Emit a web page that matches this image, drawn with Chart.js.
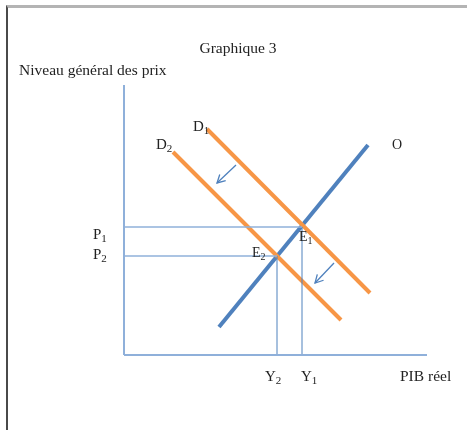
<!DOCTYPE html>
<html lang="fr">
<head>
<meta charset="utf-8">
<title>Graphique 3</title>
<script src="https://cdn.jsdelivr.net/npm/chart.js@4.4.1/dist/chart.umd.min.js"></script>
<style>
    html, body { margin: 0; padding: 0; background: #fff; }
    #cadre {
        position: absolute; left: 6px; top: 5px; right: 0; bottom: 0;
        border-top: 3px solid #b4b4b4; border-left: 2px solid #4a4a4a;
    }
    canvas { position: absolute; left: 0; top: 0; }
</style>
</head>
<body>
<div id="cadre"></div>
<canvas id="graphique" width="467" height="430"></canvas>
<script>
// Repère : origine au croisement des axes, 1 unité = 10 px
const bornesX = [-12.4, 34.3];
const bornesY = [-7.5, 35.5];

const axeHorizontal = [{ x: 0, y: 0 }, { x: 30.3, y: 0 }];
const axeVertical = [{ x: 0, y: 0 }, { x: 0, y: 27 }];

// Courbe d'offre (O) et demandes D1, D2
const offre = [{ x: 9.5, y: 2.8 }, { x: 24.4, y: 21.0 }];
const demande1 = [{ x: 8.3, y: 22.6 }, { x: 24.6, y: 6.2 }];
const demande2 = [{ x: 4.9, y: 20.3 }, { x: 21.7, y: 3.5 }];

// Équilibres E1, E2 : prix (P1, P2) et PIB (Y1, Y2)
const prix = [12.8, 9.9];
const pib = [17.8, 15.3];

// Flèches de déplacement de la demande
const fleches = [
    [{ x: 11.2, y: 19.0 }, { x: 9.3, y: 17.2 }],
    [{ x: 21.0, y: 9.2 }, { x: 19.1, y: 7.2 }]
];

// Textes : [texte, indice, x, y, taille, alignement]
const etiquettes = [
    ["Graphique 3", "", 11.4, 30.6, 15.5, "center"],
    ["Niveau général des prix", "", -10.5, 28.4, 15.5, "left"],
    ["D", "1", 6.9, 22.8, 15, "left"],
    ["D", "2", 3.2, 21.0, 15, "left"],
    ["O", "", 26.8, 21.0, 14, "left"],
    ["P", "1", -3.1, 12.0, 15, "left"],
    ["P", "2", -3.1, 10.0, 15, "left"],
    ["E", "1", 17.5, 11.8, 14, "left"],
    ["E", "2", 12.8, 10.2, 14, "left"],
    ["Y", "2", 14.1, -2.2, 15, "left"],
    ["Y", "1", 17.7, -2.2, 15, "left"],
    ["PIB réel", "", 27.6, -2.2, 15.5, "left"]
];

const bleu = "#4f81bd";
const bleuClair = "#8fb0da";
const orange = "#f79646";

function segment(points, couleur, epaisseur) {
    return {
        data: points,
        showLine: true,
        borderColor: couleur,
        borderWidth: epaisseur,
        pointRadius: 0,
        borderCapStyle: "butt"
    };
}

let datasets = [
    segment(axeHorizontal, bleuClair, 2),
    segment(axeVertical, bleuClair, 2),
    segment([{ x: 0, y: prix[0] }, { x: pib[0], y: prix[0] }], bleuClair, 1.5),
    segment([{ x: 0, y: prix[1] }, { x: pib[1], y: prix[1] }], bleuClair, 1.5),
    segment([{ x: pib[0], y: 0 }, { x: pib[0], y: prix[0] }], bleu, 1),
    segment([{ x: pib[1], y: 0 }, { x: pib[1], y: prix[1] }], bleu, 1),
    segment(demande1, orange, 4),
    segment(demande2, orange, 4),
    segment(offre, bleu, 4)
];
fleches.forEach(f => datasets.push(segment(f, bleu, 1.3)));

// Pointes des flèches et textes, placés via les échelles
const decorations = {
    id: "decorations",
    afterDatasetsDraw(chart) {
        const ctx = chart.ctx;
        const sx = chart.scales.x, sy = chart.scales.y;
        ctx.save();

        ctx.strokeStyle = bleu;
        ctx.lineWidth = 1.3;
        fleches.forEach(f => {
            let x0 = sx.getPixelForValue(f[0].x), y0 = sy.getPixelForValue(f[0].y);
            let x1 = sx.getPixelForValue(f[1].x), y1 = sy.getPixelForValue(f[1].y);
            let angle = Math.atan2(y1 - y0, x1 - x0);
            ctx.beginPath();
            ctx.moveTo(x1 - 9 * Math.cos(angle - 0.5), y1 - 9 * Math.sin(angle - 0.5));
            ctx.lineTo(x1, y1);
            ctx.lineTo(x1 - 9 * Math.cos(angle + 0.5), y1 - 9 * Math.sin(angle + 0.5));
            ctx.stroke();
        });

        ctx.fillStyle = "#222";
        ctx.textBaseline = "middle";
        etiquettes.forEach(([texte, indice, x, y, taille, align]) => {
            let px = sx.getPixelForValue(x), py = sy.getPixelForValue(y);
            ctx.font = taille + "px 'Liberation Serif', 'DejaVu Serif', serif";
            ctx.textAlign = align;
            ctx.fillText(texte, px, py);
            if (indice) {
                let w = ctx.measureText(texte).width;
                ctx.font = (taille - 4) + "px 'Liberation Serif', serif";
                ctx.textAlign = "left";
                ctx.fillText(indice, px + w, py + 4);
            }
        });
        ctx.restore();
    }
};

new Chart(document.getElementById("graphique"), {
    type: "scatter",
    data: { datasets: datasets },
    options: {
        responsive: false,
        animation: false,
        layout: { padding: 0 },
        plugins: { legend: { display: false }, tooltip: { enabled: false } },
        scales: {
            x: { type: "linear", display: false, min: bornesX[0], max: bornesX[1] },
            y: { type: "linear", display: false, min: bornesY[0], max: bornesY[1] }
        }
    },
    plugins: [decorations]
});
</script>
</body>
</html>
